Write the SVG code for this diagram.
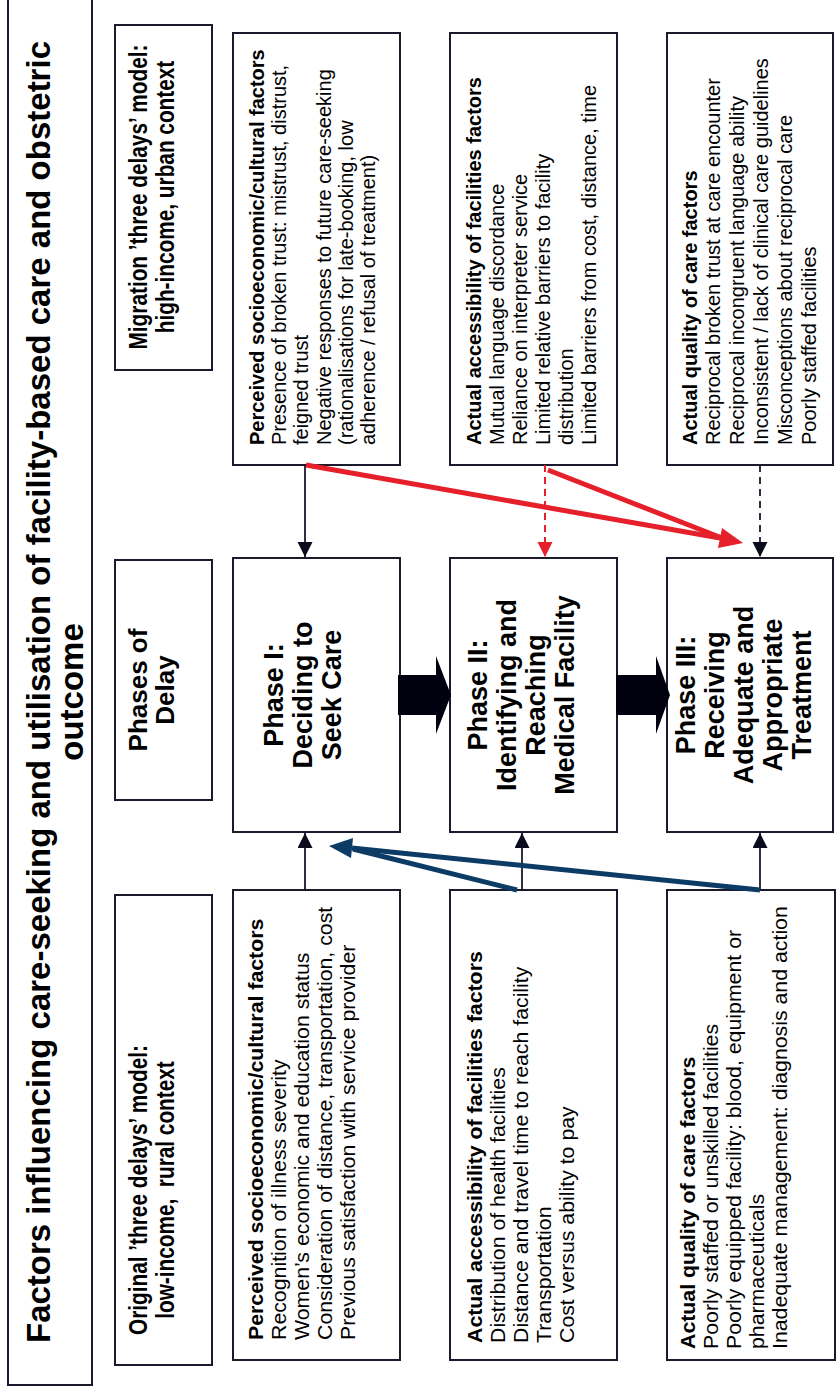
<svg xmlns="http://www.w3.org/2000/svg" width="837" height="1393" viewBox="0 0 837 1393">
  <defs>
    <style>
      .box{fill:#fff;stroke:#1a1a2c;stroke-width:2}
      .t{font-family:'Liberation Sans',Arial,sans-serif;fill:#000}
      .title{font-size:33px;font-weight:bold;text-anchor:middle}
      .hdr{font-size:26px;font-weight:bold;text-anchor:middle}
      .ph{font-size:27px;font-weight:bold;text-anchor:middle}
      .f{font-size:20px}
      .fb{font-weight:bold}
      .ln{stroke:#0b0b1e;stroke-width:1.7;fill:none}
      .dash{stroke-dasharray:7 5}
      .redln{stroke:#e5202a;stroke-width:2}
      .thickred{stroke:#e5202a;stroke-width:5;fill:none}
      .thicknavy{stroke:#0c3b66;stroke-width:5;fill:none}
      .block{fill:#00000f}
    </style>
    <marker id="headK" markerUnits="userSpaceOnUse" markerWidth="16" markerHeight="16" refX="15" refY="7.5" orient="auto">
      <path d="M0,0 L15,7.5 L0,15 z" fill="#0b0b1e"/>
    </marker>
    <marker id="headR" markerUnits="userSpaceOnUse" markerWidth="16" markerHeight="16" refX="15" refY="7.5" orient="auto">
      <path d="M0,0 L15,7.5 L0,15 z" fill="#e5202a"/>
    </marker>
  </defs>
  <rect width="837" height="1393" fill="#fff"/>

  <!-- the whole figure is laid out in landscape and turned a quarter turn -->
  <g transform="translate(0,1393) rotate(-90)">

    <g id="title">
      <rect class="box" x="8" y="8" width="1420" height="84"/>
      <text class="t title" x="701" y="50">Factors influencing care-seeking and utilisation of facility-based care and obstetric</text>
      <text class="t title" x="701" y="83">outcome</text>
    </g>

    <!-- row headers -->
    <g id="hdr-original">
      <rect class="box" x="28" y="115" width="470" height="97"/>
      <text class="t hdr" transform="translate(203,0) scale(0.8,1)" x="0" y="147">Original ’three delays’ model:</text>
      <text class="t hdr" transform="translate(203,0) scale(0.8,1)" x="0" y="174" xml:space="preserve">low-income,  rural context</text>
    </g>
    <g id="hdr-phases">
      <rect class="box" x="593" y="115" width="240" height="97"/>
      <text class="t hdr" x="703" y="147">Phases of</text>
      <text class="t hdr" x="703" y="174">Delay</text>
    </g>
    <g id="hdr-migration">
      <rect class="box" x="1023" y="115" width="345" height="97"/>
      <text class="t hdr" transform="translate(1196,0) scale(0.8,1)" x="0" y="147">Migration ’three delays’ model:</text>
      <text class="t hdr" transform="translate(1196,0) scale(0.8,1)" x="0" y="174">high-income, urban context</text>
    </g>

    <!-- low-income factor boxes -->
    <g id="orig-perceived">
      <rect class="box" x="33" y="233" width="470" height="167"/>
      <g class="t f" transform="translate(53,0) scale(1.065,1)">
        <text class="fb" x="0" y="263">Perceived socioeconomic/cultural factors</text>
        <text x="0" y="286">Recognition of illness severity</text>
        <text x="0" y="309">Women’s economic and education status</text>
        <text x="0" y="332">Consideration of distance, transportation, cost</text>
        <text x="0" y="355">Previous satisfaction with service provider</text>
      </g>
    </g>
    <g id="orig-access">
      <rect class="box" x="33" y="450" width="470" height="167"/>
      <g class="t f" transform="translate(50,0) scale(1.065,1)">
        <text class="fb" x="0" y="482">Actual accessibility of facilities factors</text>
        <text x="0" y="505">Distribution of health facilities</text>
        <text x="0" y="528">Distance and travel time to reach facility</text>
        <text x="0" y="551">Transportation</text>
        <text x="0" y="574">Cost versus ability to pay</text>
      </g>
    </g>
    <g id="orig-quality">
      <rect class="box" x="33" y="667" width="470" height="168"/>
      <g class="t f" transform="translate(44,0) scale(1.065,1)">
        <text class="fb" x="0" y="695">Actual quality of care factors</text>
        <text x="0" y="718">Poorly staffed or unskilled facilities</text>
        <text x="0" y="741">Poorly equipped facility: blood, equipment or</text>
        <text x="0" y="764">pharmaceuticals</text>
        <text x="0" y="787">Inadequate management: diagnosis and action</text>
      </g>
    </g>

    <!-- phases -->
    <g id="phase-1">
      <rect class="box" x="561" y="233" width="274" height="167"/>
      <text class="t ph" x="698" y="283">Phase I:</text>
      <text class="t ph" x="698" y="312">Deciding to</text>
      <text class="t ph" x="698" y="341">Seek Care</text>
    </g>
    <g id="phase-2">
      <rect class="box" x="561" y="450" width="274" height="167"/>
      <text class="t ph" x="698" y="487">Phase II:</text>
      <text class="t ph" x="698" y="516">Identifying and</text>
      <text class="t ph" x="698" y="545">Reaching</text>
      <text class="t ph" x="698" y="574">Medical Facility</text>
    </g>
    <g id="phase-3">
      <rect class="box" x="561" y="667" width="274" height="166"/>
      <text class="t ph" x="698" y="695">Phase III:</text>
      <text class="t ph" x="698" y="724">Receiving</text>
      <text class="t ph" x="698" y="753">Adequate and</text>
      <text class="t ph" x="698" y="782">Appropriate</text>
      <text class="t ph" x="698" y="811">Treatment</text>
    </g>

    <!-- high-income factor boxes -->
    <g id="mig-perceived">
      <rect class="box" x="928" y="233" width="432" height="167"/>
      <g class="t f">
        <text class="fb" x="948" y="264">Perceived socioeconomic/cultural factors</text>
        <text x="948" y="286">Presence of broken trust: mistrust, distrust,</text>
        <text x="948" y="308">feigned trust</text>
        <text x="948" y="331">Negative responses to future care-seeking</text>
        <text x="948" y="353">(rationalisations for late-booking, low</text>
        <text x="948" y="375">adherence / refusal of treatment)</text>
      </g>
    </g>
    <g id="mig-access">
      <rect class="box" x="928" y="450" width="432" height="167"/>
      <g class="t f">
        <text class="fb" x="948" y="481">Actual accessibility of facilities factors</text>
        <text x="948" y="504">Mutual language discordance</text>
        <text x="948" y="527">Reliance on interpreter service</text>
        <text x="948" y="550">Limited relative barriers to facility</text>
        <text x="948" y="573">distribution</text>
        <text x="948" y="596">Limited barriers from cost, distance, time</text>
      </g>
    </g>
    <g id="mig-quality">
      <rect class="box" x="928" y="667" width="432" height="166"/>
      <g class="t f">
        <text class="fb" x="948" y="697">Actual quality of care factors</text>
        <text x="948" y="720">Reciprocal broken trust at care encounter</text>
        <text x="948" y="744">Reciprocal incongruent language ability</text>
        <text x="948" y="768">Inconsistent / lack of clinical care guidelines</text>
        <text x="948" y="792">Misconceptions about reciprocal care</text>
        <text x="948" y="816">Poorly staffed facilities</text>
      </g>
    </g>

    <g id="connectors">
      <!-- phase sequence -->
      <rect class="block" x="678" y="398" width="40" height="38"/>
      <polygon class="block" points="659,436 737,436 698,451"/>
      <rect class="block" x="678" y="616" width="40" height="40"/>
      <polygon class="block" points="659,656 737,656 698,670"/>

      <!-- high-income factors into phases -->
      <line class="ln" x1="928" y1="305" x2="836" y2="305" marker-end="url(#headK)"/>
      <line class="ln redln dash" x1="928" y1="545" x2="836" y2="545" marker-end="url(#headR)"/>
      <line class="ln dash" x1="928" y1="760" x2="836" y2="760" marker-end="url(#headK)"/>
      <line class="thickred" x1="928" y1="306" x2="855" y2="720"/>
      <line class="thickred" x1="923" y1="548" x2="855" y2="722"/>
      <polygon fill="#e5202a" points="850,743 865,722 845,718"/>

      <!-- low-income factors into phases -->
      <line class="ln" x1="503" y1="305" x2="560" y2="305" marker-end="url(#headK)"/>
      <line class="ln" x1="503" y1="522" x2="560" y2="522" marker-end="url(#headK)"/>
      <line class="ln" x1="503" y1="760" x2="560" y2="760" marker-end="url(#headK)"/>
      <line class="thicknavy" x1="503" y1="760" x2="545" y2="352"/>
      <line class="thicknavy" x1="503" y1="517" x2="544" y2="353"/>
      <polygon fill="#0c3b66" points="547,329 555,353 535,351"/>
    </g>
  </g>
</svg>
